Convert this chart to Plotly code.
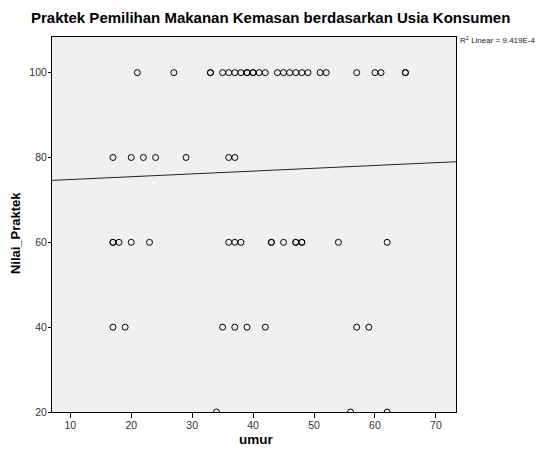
import plotly.graph_objects as go

# Data (umur = age, Nilai_Praktek = score)
umur_100 = [21, 27, 33, 33, 35, 36, 37, 38, 39, 39, 40, 40, 41, 42, 44, 45, 46, 47, 48, 49, 51, 52, 57, 60, 61, 65, 65]
umur_80 = [17, 20, 22, 24, 29, 36, 37]
umur_60 = [17, 17, 18, 20, 23, 36, 37, 38, 43, 43, 45, 47, 47, 48, 48, 54, 62]
umur_40 = [17, 19, 35, 37, 39, 42, 57, 59]
umur_20 = [34, 56, 62]

nilai_levels = [100, 80, 60, 40, 20]

# Linear fit line (endpoints across the x range)
fit_x = [7.0, 73.3]
fit_y = [74.6, 79.0]

x_ticks = [10, 20, 30, 40, 50, 60, 70]
y_ticks = [20, 40, 60, 80, 100]

xs, ys = [], []
for lvl, arr in zip(nilai_levels, [umur_100, umur_80, umur_60, umur_40, umur_20]):
    xs += arr
    ys += [lvl] * len(arr)

fig = go.Figure()
fig.add_trace(go.Scatter(
    x=xs, y=ys, mode="markers",
    marker=dict(symbol="circle-open", size=6, color="black", line=dict(width=1)),
    showlegend=False, hoverinfo="x+y",
))
fig.add_trace(go.Scatter(
    x=fit_x, y=fit_y, mode="lines",
    line=dict(color="#222222", width=1),
    showlegend=False, hoverinfo="skip",
))

font_family = "Liberation Sans, Arial, sans-serif"

# The page body has an 8px margin, so the figure is 8px smaller on each axis
fig.update_layout(
    width=535, height=443,
    margin=dict(l=44, r=87, t=29, b=39, autoexpand=False),
    paper_bgcolor="white",
    plot_bgcolor="#F0F0F0",
    font=dict(family=font_family, color="#333333", size=10),
    xaxis=dict(
        range=[7.0, 73.3], tickvals=x_ticks, ticks="outside", ticklen=5, tickcolor="black",
        showgrid=False, zeroline=False, showline=True, linecolor="black", linewidth=1, mirror=True,
        tickfont=dict(size=10.5, color="#333333"), automargin=False, ticklabelstandoff=-2,
    ),
    yaxis=dict(
        range=[20, 108.4], tickvals=y_ticks, ticks="outside", ticklen=3, tickcolor="black",
        showgrid=False, zeroline=False, showline=True, linecolor="black", linewidth=1, mirror=True,
        tickfont=dict(size=10.5, color="#333333"), automargin=False, ticklabelstandoff=-1,
    ),
    annotations=[
        dict(
            text="<b>Praktek Pemilihan Makanan Kemasan berdasarkan Usia Konsumen</b>",
            xref="paper", yref="paper", x=0.54, y=1.0507, xanchor="center", yanchor="middle",
            showarrow=False, font=dict(size=15, color="black"),
        ),
        dict(
            text="<b>umur</b>",
            xref="paper", yref="paper", x=0.505, y=-0.074, xanchor="center", yanchor="middle",
            showarrow=False, font=dict(size=13.5, color="black"),
        ),
        dict(
            text="<b>Nilai_Praktek</b>", textangle=-90,
            xref="paper", yref="paper", x=-0.0916, y=0.477, xanchor="center", yanchor="middle",
            showarrow=False, font=dict(size=13, color="black"),
        ),
        dict(
            text="R<sup>2</sup> Linear = 9.419E-4",
            xref="paper", yref="paper", x=1.004, y=0.992, xanchor="left", yanchor="middle",
            showarrow=False, font=dict(size=8, color="#222222"),
        ),
    ],
)

fig.write_html("out.html")
